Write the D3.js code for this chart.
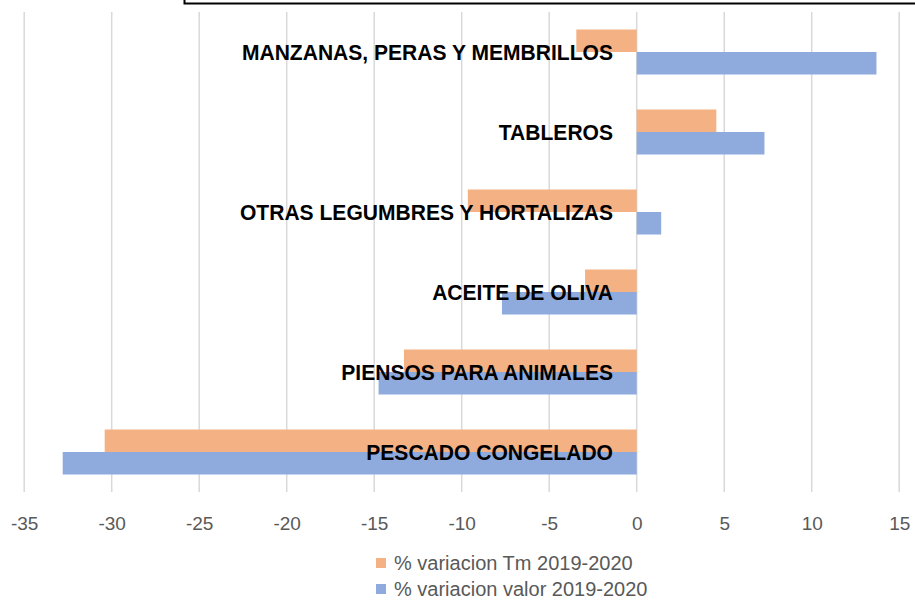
<!DOCTYPE html>
<html><head><meta charset="utf-8">
<script src="https://cdn.jsdelivr.net/npm/d3@7"></script>
<style>body{margin:0;background:#fff;} svg{display:block;}</style>
</head><body><svg id="c" width="915" height="600"></svg>
<script>
const categories = ["MANZANAS, PERAS Y MEMBRILLOS","TABLEROS","OTRAS LEGUMBRES Y HORTALIZAS","ACEITE DE OLIVA","PIENSOS PARA ANIMALES","PESCADO CONGELADO"];
const seriesNames = ["% variacion Tm 2019-2020","% variacion valor 2019-2020"];
const tmValues = [-3.45, 4.55, -9.65, -2.95, -13.3, -30.4];
const valorValues = [13.7, 7.3, 1.4, -7.7, -14.75, -32.8];
const xTicks = [-35,-30,-25,-20,-15,-10,-5,0,5,10,15];
const colors = ["#F4B183","#8FAADC"];

const svg = d3.select("#c");
const x = d3.scaleLinear().domain([-35,15]).range([24.2, 899.2]);
const y = d3.scaleBand().domain(categories).range([12,492]).paddingInner(0.4375).paddingOuter(0.21875);
const sub = d3.scaleBand().domain([0,1]).range([0,y.bandwidth()]);

// top (cropped) title box
svg.append("rect").attr("x",184.5).attr("y",-10).attr("width",760).attr("height",13.5)
  .attr("fill","none").attr("stroke","#000").attr("stroke-width",2);

// gridlines
svg.append("g").selectAll("line").data(xTicks).join("line")
  .attr("x1",d=>x(d)).attr("x2",d=>x(d)).attr("y1",12).attr("y2",492)
  .attr("stroke","#d9d9d9").attr("stroke-width",1.5);

// bars
const series = [tmValues, valorValues];
series.forEach((vals,si)=>{
  svg.append("g").selectAll("rect").data(vals).join("rect")
    .attr("x",d=>x(Math.min(0,d)))
    .attr("width",d=>Math.abs(x(d)-x(0)))
    .attr("y",(d,i)=>y(categories[i])+sub(si))
    .attr("height",sub.bandwidth())
    .attr("fill",colors[si]);
});

// category labels
const labelFont = "'Liberation Sans','DejaVu Sans',Arial,sans-serif";
const lab = svg.append("g").selectAll("text").data(categories).join("text")
  .attr("x",613).attr("y",d=>y(d)+y.bandwidth()/2+8)
  .attr("text-anchor","end")
  .attr("font-family",labelFont).attr("font-weight","bold").attr("font-size",21.5)
  .attr("fill","#000").text(d=>d);
let maxW = 0;
lab.each(function(){ maxW = Math.max(maxW, this.getComputedTextLength()); });
const f = 373/maxW;
lab.each(function(){ const w=this.getComputedTextLength(); d3.select(this).attr("textLength",w*f).attr("lengthAdjust","spacingAndGlyphs"); });

// x axis labels
const ax = svg.append("g").attr("transform","translate(0,492)")
  .call(d3.axisBottom(x).tickValues(xTicks).tickSize(0).tickPadding(25).tickFormat(d=>String(d)));
ax.select(".domain").remove();
ax.selectAll("text").attr("font-family","'Liberation Sans',Arial,sans-serif").attr("font-size",19).attr("fill","#595959");

// legend
const lg = svg.append("g");
seriesNames.forEach((n,i)=>{
  const cy = 563 + i*26;
  lg.append("rect").attr("x",376).attr("y",cy-5).attr("width",10).attr("height",10).attr("fill",colors[i]);
  lg.append("text").attr("x",394).attr("y",cy+7).attr("font-family","'Liberation Sans',Arial,sans-serif")
    .attr("font-size",20).attr("fill","#595959").text(n);
});
</script></body></html>
